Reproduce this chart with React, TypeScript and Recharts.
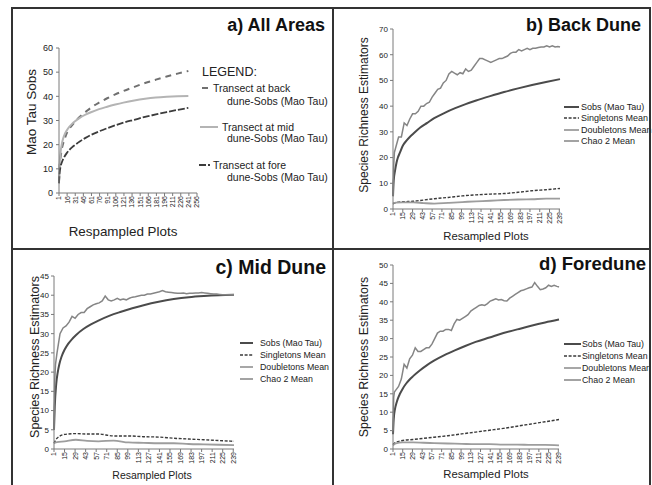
import React from 'react';
import { LineChart, Line, XAxis, YAxis, Legend } from 'recharts';

const FONT = '"Liberation Sans", Arial, Helvetica, sans-serif';

// resampled plot numbers where the smooth Sobs curves were read
const sobsPlots = [1, 2, 4, 6, 8, 11, 15, 20, 25, 30, 40, 50, 60, 75, 90, 105, 120, 140, 160, 180, 200, 220, 240];
const sobsBack = [5, 11, 15, 18, 20, 22, 24.6, 26.5, 28, 29.3, 31.7, 33.5, 35.3, 37.4, 39.2, 40.8, 42.2, 43.9, 45.5, 46.9, 48.2, 49.4, 50.5];
const sobsMid = [5, 11, 17, 20, 22, 24, 25.8, 27.4, 28.6, 29.6, 31.2, 32.4, 33.4, 34.7, 35.7, 36.6, 37.4, 38.3, 39, 39.5, 39.8, 40, 40.1];
const sobsFore = [4, 8, 11, 12.5, 13.7, 15, 16.4, 17.8, 18.9, 19.8, 21.4, 22.8, 24, 25.5, 26.8, 28, 29.1, 30.3, 31.5, 32.5, 33.5, 34.4, 35.2];

// Chao 2 is noisy, so it is read on a denser grid
const chaoPlots = [
  1, 2, 3, 5, 9, 13, 17, 21, 25, 29,
  33, 37, 41, 45, 49, 53, 57, 61, 65, 69,
  73, 77, 81, 85, 89, 93, 97, 101, 105, 109,
  113, 117, 121, 125, 129, 133, 137, 141, 145, 149,
  153, 157, 161, 165, 169, 173, 177, 181, 185, 189,
  193, 197, 201, 205, 209, 213, 217, 221, 225, 229,
  233, 237, 240,
];
const chaoBack = [
  5, 17, 22, 24, 28, 28, 33.5, 32.5, 35, 37,
  37, 38, 40, 40, 41, 41.5, 43.5, 45, 46.5, 47,
  49, 50, 52.5, 53.5, 52.8, 52.2, 53, 52.6, 54.5, 53.5,
  54, 55.5, 57, 58.5, 58.5, 58, 57.5, 57, 57.5, 58,
  58.5, 58.5, 59, 59.5, 60.5, 61, 61, 62, 61.5, 62,
  62.5, 62, 62.5, 62.5, 62.8, 63, 63, 63.5, 63, 63.5,
  63, 63.2, 63,
];
const chaoMid = [
  5, 18, 22, 25, 30, 31.5, 32, 33, 34.5, 34,
  35, 35.5, 35.5, 36.5, 37, 37.5, 37.8, 38, 38.5, 39.8,
  38.8, 38.5, 38.8, 39.2, 38.8, 39, 38.8, 39.2, 39.5, 39.6,
  39.8, 40, 40, 40.3, 40.3, 40.5, 40.7, 40.9, 41.2, 40.9,
  40.8, 40.7, 40.6, 40.5, 40.5, 40.6, 40.4, 40.5, 40.5, 40.6,
  40.6, 40.7, 40.6, 40.5, 40.4, 40.3, 40.3, 40.2, 40.1, 40.1,
  40.1, 40.1, 40.1,
];
const chaoFore = [
  5, 14, 15.5, 16, 17, 19, 23, 22, 24.5, 25.5,
  27.5, 26.5, 26.5, 27, 27.5, 27.5, 28.5, 30, 31.5, 32,
  32, 32.5, 32.5, 32.2, 34, 35.2, 35, 35.5, 36, 36.5,
  37.5, 38, 38.5, 39, 39.2, 39, 39.5, 40.2, 40.5, 40.8,
  40.5, 40.6, 40.3, 40.2, 41, 41.5, 42, 42.5, 43, 43.2,
  43.5, 43.8, 44, 45.2, 44.2, 43.3, 43.5, 43.8, 44.5, 44.2,
  44.5, 44.2, 44,
];

// singletons / doubletons means
const meanPlots = [1, 5, 15, 30, 45, 60, 80, 100, 120, 140, 160, 180, 200, 220, 240];
const singBack = [2, 2.5, 2.8, 3, 3.5, 4, 4.5, 5.1, 5.5, 5.8, 6, 6.5, 7.1, 7.5, 8];
const doubBack = [2.3, 2.5, 2.6, 2.6, 2.3, 2.1, 2.4, 2.7, 3, 3.2, 3.5, 3.7, 3.8, 4, 4];
const singMid = [1.5, 2.8, 3.8, 4, 3.9, 3.9, 3.4, 3.4, 3.2, 3.1, 2.8, 2.6, 2.4, 2.2, 2];
const doubMid = [1.5, 1.8, 2, 2.4, 2.1, 2, 2.2, 1.7, 1.6, 1.5, 1.5, 1.3, 1.2, 1.1, 1];
const singFore = [1.2, 1.8, 2.3, 2.6, 2.9, 3.2, 3.6, 4.1, 4.6, 5.1, 5.6, 6.2, 6.8, 7.4, 8];
const doubFore = [1, 1.5, 1.8, 1.8, 1.7, 1.6, 1.5, 1.4, 1.3, 1.3, 1.2, 1.2, 1.1, 1.1, 1];

const allAreasTicks = [1, 16, 31, 46, 61, 76, 91, 106, 121, 136, 151, 166, 181, 196, 211, 226, 241, 256];
const duneTicks = [1, 15, 29, 43, 57, 71, 85, 99, 113, 127, 141, 155, 169, 183, 197, 211, 225, 239];
const ticksBy10to60 = [0, 10, 20, 30, 40, 50, 60];
const ticksBy10to70 = [0, 10, 20, 30, 40, 50, 60, 70];
const ticksBy5to45 = [0, 5, 10, 15, 20, 25, 30, 35, 40, 45];
const ticksBy5to50 = [0, 5, 10, 15, 20, 25, 30, 35, 40, 45, 50];

const duneNames = ['Sobs (Mao Tau)', 'Singletons Mean', 'Doubletons Mean', 'Chao 2 Mean'];
const transectNames = ['Transect at back', 'Transect at mid', 'Transect at fore'];

const toPoints = (xs: number[], ys: number[]) => xs.map((x, i) => ({ x, y: ys[i] }));

const duneStyles = [
  { stroke: '#4b4b4b', width: 2, dash: undefined as string | undefined, curve: 'monotone' },
  { stroke: '#3a3a3a', width: 1.4, dash: '3 1.6', curve: 'monotone' },
  { stroke: '#9d9d9d', width: 1.8, dash: undefined, curve: 'monotone' },
  { stroke: '#858585', width: 1.5, dash: undefined, curve: 'linear' },
];
const transectStyles = [
  { stroke: '#707070', width: 2, dash: '6 5' },
  { stroke: '#b4b4b4', width: 2, dash: undefined as string | undefined },
  { stroke: '#3c3c3c', width: 1.8, dash: '7 2' },
];

const RotatedTick = (props: any) => {
  const { x, y, payload } = props;
  return (
    <text x={x} y={y - 2} dy="0.35em" textAnchor="end" transform={`rotate(-90 ${x} ${y - 2})`}
      fontSize={7} fill="#222" fontFamily={FONT}>
      {payload.value}
    </text>
  );
};

const Title = ({ text, right, top, size }: any) => (
  <div style={{ position: 'absolute', right, top, fontSize: size, fontWeight: 700, lineHeight: 1, whiteSpace: 'nowrap', color: '#111' }}>
    {text}
  </div>
);

const AxisTitle = ({ text, cx, cy, size, rotate }: any) => (
  <div style={{
    position: 'absolute', left: cx, top: cy, fontSize: size, lineHeight: 1, whiteSpace: 'nowrap', color: '#222',
    transform: `translate(-50%, -50%)${rotate ? ' rotate(-90deg)' : ''}`,
  }}>
    {text}
  </div>
);

const Sample = ({ len, s }: any) => (
  <svg width={len} height={6} style={{ display: 'block', flex: 'none' }}>
    <line x1={0} y1={3} x2={len} y2={3} stroke={s.stroke} strokeWidth={s.width} strokeDasharray={s.dash} />
  </svg>
);

type DuneProps = {
  left: number; top: number; width: number; height: number;
  margin: { top: number; right: number; bottom: number; left: number };
  yWidth: number; yMax: number; yTicks: number[];
  sobs: number[]; sing: number[]; doub: number[]; chao: number[];
  title: string; titleRight: number; titleTop: number; titleSize: number;
  yLabel: { cx: number; cy: number; size: number };
  xLabel: { cx: number; cy: number; size: number };
  legend: { left: number; first: number; row: number; line: number; gap: number; size: number };
};

const DunePanel = (p: DuneProps) => {
  const series = [
    toPoints(sobsPlots, p.sobs),
    toPoints(meanPlots, p.sing),
    toPoints(meanPlots, p.doub),
    toPoints(chaoPlots, p.chao),
  ];
  const lg = p.legend;
  return (
    <div style={{ position: 'absolute', left: p.left, top: p.top, width: p.width, height: p.height }}>
      <LineChart width={p.width} height={p.height} margin={p.margin}>
        <XAxis dataKey="x" type="number" domain={[1, 240]} ticks={duneTicks} interval={0} height={22}
          tickSize={3} tick={<RotatedTick />} axisLine={{ stroke: '#7a7a7a' }} tickLine={{ stroke: '#7a7a7a' }} />
        <YAxis type="number" domain={[0, p.yMax]} ticks={p.yTicks} interval={0} width={p.yWidth}
          tickSize={3} tickMargin={2} tick={{ fontSize: 8, fill: '#222', fontFamily: FONT }}
          axisLine={{ stroke: '#7a7a7a' }} tickLine={{ stroke: '#7a7a7a' }} />
        {series.map((d, i) => (
          <Line key={duneNames[i]} data={d} dataKey="y" name={duneNames[i]} type={duneStyles[i].curve as any}
            stroke={duneStyles[i].stroke} strokeWidth={duneStyles[i].width} strokeDasharray={duneStyles[i].dash}
            dot={false} isAnimationActive={false} />
        ))}
        <Legend layout="vertical" align="center" verticalAlign="middle"
          wrapperStyle={{ position: 'absolute', left: lg.left, top: lg.first - lg.row / 2, width: 110 }}
          content={() => (
            <div style={{ fontFamily: FONT, fontSize: lg.size, color: '#222' }}>
              {duneNames.map((n, i) => (
                <div key={n} style={{ display: 'flex', alignItems: 'center', height: lg.row, whiteSpace: 'nowrap' }}>
                  <Sample len={lg.line} s={duneStyles[i]} />
                  <span style={{ marginLeft: lg.gap }}>{n}</span>
                </div>
              ))}
            </div>
          )} />
      </LineChart>
      <Title text={p.title} right={p.titleRight} top={p.titleTop} size={p.titleSize} />
      <AxisTitle text="Species Richness Estimators" cx={p.yLabel.cx} cy={p.yLabel.cy} size={p.yLabel.size} rotate />
      <AxisTitle text="Resampled Plots" cx={p.xLabel.cx} cy={p.xLabel.cy} size={p.xLabel.size} />
    </div>
  );
};

const AllAreasPanel = () => {
  const series = [toPoints(sobsPlots, sobsBack), toPoints(sobsPlots, sobsMid), toPoints(sobsPlots, sobsFore)];
  const rowText = (text: string, left: number, cy: number) => (
    <div style={{ position: 'absolute', left, top: cy - 6, height: 12, lineHeight: '12px', whiteSpace: 'nowrap' }}>{text}</div>
  );
  const rowLine = (i: number, left: number, len: number, cy: number) => (
    <div style={{ position: 'absolute', left, top: cy - 3 }}><Sample len={len} s={transectStyles[i]} /></div>
  );
  return (
    <div style={{ position: 'absolute', left: 12, top: 8, width: 321, height: 241 }}>
      <LineChart width={321} height={241} margin={{ top: 40, right: 136, bottom: 34, left: 17 }}>
        <XAxis dataKey="x" type="number" domain={[1, 256]} ticks={allAreasTicks} interval={0} height={22}
          tickSize={3} tick={<RotatedTick />} axisLine={{ stroke: '#7a7a7a' }} tickLine={{ stroke: '#7a7a7a' }} />
        <YAxis type="number" domain={[0, 60]} ticks={ticksBy10to60} interval={0} width={30}
          tickSize={3} tickMargin={3} tick={{ fontSize: 9, fill: '#222', fontFamily: FONT }}
          axisLine={{ stroke: '#7a7a7a' }} tickLine={{ stroke: '#7a7a7a' }} />
        {series.map((d, i) => (
          <Line key={transectNames[i]} data={d} dataKey="y" name={transectNames[i]} type="monotone"
            stroke={transectStyles[i].stroke} strokeWidth={transectStyles[i].width}
            strokeDasharray={transectStyles[i].dash} dot={false} isAnimationActive={false} />
        ))}
        <Legend layout="vertical" align="center" verticalAlign="middle"
          wrapperStyle={{ position: 'absolute', left: 0, top: 0, width: 321 }}
          content={() => (
            <div style={{ position: 'relative', fontFamily: FONT, fontSize: 10.5, color: '#222' }}>
              <div style={{ position: 'absolute', left: 190, top: 56, fontSize: 12.5, lineHeight: '16px' }}>LEGEND:</div>
              {rowLine(0, 190, 9, 80)}
              {rowText(transectNames[0], 201, 80)}
              {rowText('dune-Sobs (Mao Tau)', 215, 93)}
              {rowLine(1, 188, 18, 119)}
              {rowText(transectNames[1], 210, 119)}
              {rowText('dune-Sobs (Mao Tau)', 215, 130)}
              {rowLine(2, 187, 11, 157)}
              {rowText(transectNames[2], 201, 157)}
              {rowText('dune-Sobs (Mao Tau)', 215, 169)}
            </div>
          )} />
      </LineChart>
      <Title text="a) All Areas" right={8} top={7.7} size={18} />
      <AxisTitle text="Mao Tau Sobs" cx={20} cy={104} size={13.5} rotate />
      <AxisTitle text="Respampled Plots" cx={111} cy={224} size={13.4} />
    </div>
  );
};

export default function App() {
  return (
    <div style={{ position: 'relative', width: 652, height: 485, background: '#fff', fontFamily: FONT, overflow: 'hidden' }}>
      <style>{'body{margin:0}'}</style>
      <AllAreasPanel />
      <DunePanel left={334} top={9} width={316} height={240}
        margin={{ top: 20, right: 90, bottom: 18, left: 34 }} yWidth={25} yMax={70} yTicks={ticksBy10to70}
        sobs={sobsBack} sing={singBack} doub={doubBack} chao={chaoBack}
        title="b) Back Dune" titleRight={9} titleTop={6.7} titleSize={18}
        yLabel={{ cx: 30, cy: 106, size: 12 }} xLabel={{ cx: 152, cy: 228, size: 11.3 }}
        legend={{ left: 230, first: 98, row: 11.4, line: 15, gap: 2, size: 9 }} />
      <DunePanel left={12} top={249} width={321} height={236}
        margin={{ top: 27, right: 99, bottom: 14, left: 20 }} yWidth={22} yMax={45} yTicks={ticksBy5to45}
        sobs={sobsMid} sing={singMid} doub={doubMid} chao={chaoMid}
        title="c) Mid Dune" titleRight={7} titleTop={8.5} titleSize={19.5}
        yLabel={{ cx: 23, cy: 108, size: 12.5 }} xLabel={{ cx: 140, cy: 225.5, size: 10.5 }}
        legend={{ left: 228, first: 94, row: 12, line: 13, gap: 7, size: 8.8 }} />
      <DunePanel left={334} top={250} width={316} height={235}
        margin={{ top: 15, right: 91, bottom: 14, left: 34 }} yWidth={25} yMax={50} yTicks={ticksBy5to50}
        sobs={sobsFore} sing={singFore} doub={doubFore} chao={chaoFore}
        title="d) Foredune" titleRight={4} titleTop={4.6} titleSize={18.5}
        yLabel={{ cx: 30, cy: 107, size: 12.4 }} xLabel={{ cx: 152, cy: 225, size: 11.3 }}
        legend={{ left: 230, first: 94, row: 12, line: 17, gap: 1, size: 8.8 }} />
      {/* panel frame */}
      <div style={{ position: 'absolute', left: 11, top: 7, width: 640, height: 478, boxSizing: 'border-box', borderTop: '2px solid #333', borderLeft: '2px solid #333', borderRight: '2px solid #333' }} />
      <div style={{ position: 'absolute', left: 332, top: 7, width: 2, height: 478, background: '#333' }} />
      <div style={{ position: 'absolute', left: 11, top: 248, width: 640, height: 2, background: '#333' }} />
    </div>
  );
}
